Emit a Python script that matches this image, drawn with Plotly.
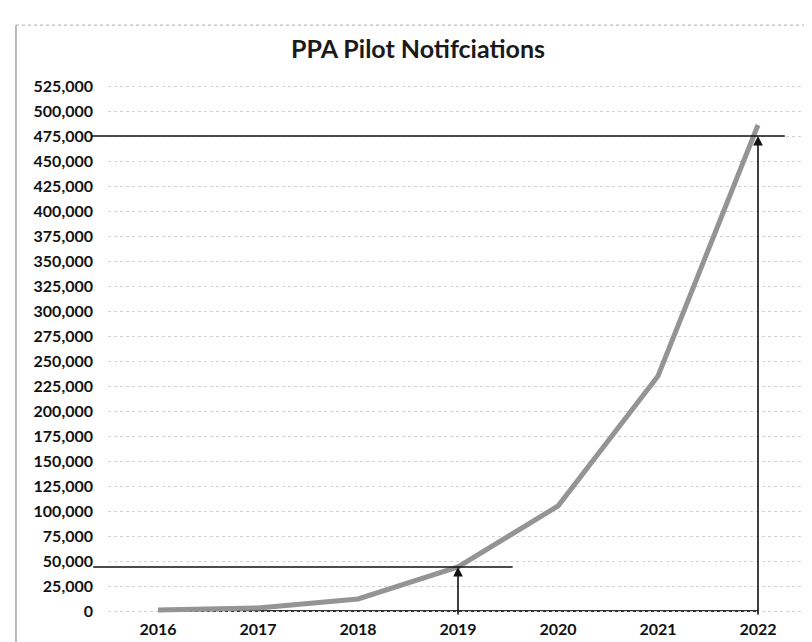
import plotly.graph_objects as go

# ---- data ----
years = [2016, 2017, 2018, 2019, 2020, 2021, 2022]
notifications = [1000, 3000, 12000, 44000, 105000, 235000, 486000]
y_ticks = list(range(0, 525001, 25000))
y_tick_labels = [f"{v:,}" for v in y_ticks]
marker_years = [2019, 2022]
marker_levels = [44000, 475000]

FONT = "Lato"
fig = go.Figure()

fig.add_trace(go.Scatter(
    x=years, y=notifications, mode="lines",
    line=dict(color="#949494", width=5),
    showlegend=False, hoverinfo="x+y",
))

shapes = []
# baseline under the series
shapes.append(dict(type="line", xref="x", yref="y", x0=years[0], x1=years[-1], y0=0, y1=0,
                   line=dict(color="#333333", width=2), layer="below"))
# horizontal reference lines (start left of the plot area)
h_ext = [(-0.021, 0.574), (-0.024, 0.960)]
for (xa, xb), lvl in zip(h_ext, marker_levels):
    shapes.append(dict(type="line", xref="paper", yref="y", x0=xa, x1=xb, y0=lvl, y1=lvl,
                       line=dict(color="#111111", width=1.6), layer="above"))
# frame of the scanned page
shapes.append(dict(type="line", xref="paper", yref="paper", x0=-0.1305, x1=-0.1305, y0=-0.06, y1=1.10,
                   line=dict(color="#777777", width=1)))
shapes.append(dict(type="line", xref="paper", yref="paper", x0=-0.1305, x1=1.02, y0=1.10, y1=1.10,
                   line=dict(color="#aaaaaa", width=1, dash="dot")))

annotations = []
for yr, lvl in zip(marker_years, marker_levels):
    annotations.append(dict(x=yr, y=lvl, ax=yr, ay=-5000, xref="x", yref="y", axref="x", ayref="y",
                            showarrow=True, arrowhead=2, arrowsize=1.2, arrowwidth=1.6,
                            arrowcolor="#111111", text=""))

fig.update_layout(
    width=812, height=642,
    margin=dict(l=100, r=7, t=71, b=32),
    paper_bgcolor="white", plot_bgcolor="white",
    title=dict(text="<b>PPA Pilot Notifciations</b>", x=0.505, xref="container", y=0.935,
               yref="container", xanchor="center", yanchor="middle",
               font=dict(family=FONT, size=25, color="#1a1a1a")),
    shapes=shapes, annotations=annotations,
    font=dict(family=FONT),
)
fig.update_xaxes(
    range=[2015.5, 2022.55], tickmode="array", tickvals=years, ticktext=[f"<b>{y}</b>" for y in years],
    showgrid=False, zeroline=False, showline=False, ticks="",
    tickfont=dict(family=FONT, size=16, color="#111111"), ticklabelstandoff=0,
)
fig.update_yaxes(
    range=[-7000, 532000], tickmode="array", tickvals=y_ticks,
    ticktext=[f"<b>{t}</b>" for t in y_tick_labels],
    showgrid=True, gridcolor="#d2d2d2", griddash="dot", gridwidth=1,
    zeroline=False, showline=False, ticks="",
    tickfont=dict(family=FONT, size=16, color="#111111"), ticklabelstandoff=14,
)

fig.write_html("out.html")
